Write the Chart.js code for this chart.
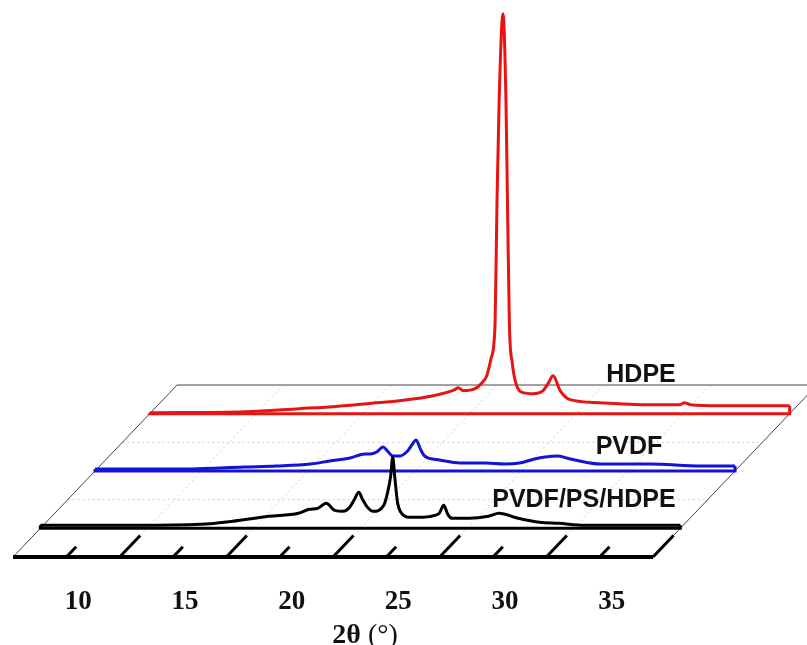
<!DOCTYPE html>
<html>
<head>
<meta charset="utf-8">
<script src="https://cdn.jsdelivr.net/npm/chart.js@4.4.0/dist/chart.umd.min.js"></script>
<style>
  html, body { margin: 0; padding: 0; background: #fff; }
  #wrap { width: 807px; height: 645px; position: relative; }
</style>
</head>
<body>
<div id="wrap"><canvas id="xrd"></canvas></div>
<script>
// XRD patterns, 2theta (deg) vs intensity (a.u.)
const blendTheta = [7.5, 12.0, 15.0, 16.5, 18.2, 19.6, 20.1, 20.5, 20.9, 21.3, 21.7, 22.0, 22.2, 22.43, 22.6, 22.8, 23.1, 23.6, 23.8, 23.92, 24.02, 24.12, 24.25, 24.4, 24.8, 25.2, 26.0, 26.2, 26.41, 26.6, 26.8, 27.6, 28.5, 29.0, 29.9, 30.9, 31.8, 33.0, 37.5];
const blendInt   = [3, 3, 4, 7, 12, 15, 19, 20, 25, 18, 17, 21, 28, 36, 29, 22, 17, 23, 38, 52, 71, 50, 25, 16, 11, 11, 13, 15, 23, 14, 10, 10, 12, 15, 10, 6, 5, 3, 3];

const pvdfTheta = [7.5, 12.0, 14.5, 16.0, 17.6, 18.5, 19.45, 20.15, 20.4, 20.7, 21.0, 21.25, 21.45, 21.8, 22.15, 22.35, 22.55, 22.75, 22.95, 23.65, 24.6, 25.8, 26.7, 27.4, 28.1, 28.6, 29.2, 29.6, 30.0, 31.2, 33.5, 35.9, 37.5];
const pvdfInt   = [2, 2, 4, 5, 7, 10, 13, 17, 17, 19, 24, 19, 15, 15, 20, 26, 31, 22, 15, 11, 8, 8, 7, 8, 12, 14, 15, 13, 11, 7, 7, 5, 5];

const hdpeTheta = [7.5, 12.0, 14.5, 16.1, 17.7, 19.2, 20.8, 21.8, 21.95, 22.2, 22.75, 23.08, 23.3, 23.5, 23.69, 23.78, 23.88, 24.06, 24.2, 24.27, 24.36, 24.5, 24.67, 25.0, 25.47, 25.94, 26.17, 26.41, 26.74, 27.2, 28.6, 30.5, 32.37, 32.56, 32.84, 34.25, 37.5];
const hdpeInt   = [1, 2, 5, 7, 10, 13, 18, 24, 26, 23, 25, 31, 38, 55, 90, 213, 313, 400, 313, 213, 90, 50, 30, 21, 20, 23, 30, 38, 23, 14, 11, 9, 9, 11, 9, 8, 8];

const seriesNames = ["PVDF/PS/HDPE", "PVDF", "HDPE"];
const labelTicks = [10, 15, 20, 25, 30, 35];
const majorTicks = [12.5, 17.5, 22.5, 27.5, 32.5, 37.5];

// oblique projection of the floor
const X0 = 7.5, X1 = 37.5;
const DEPTH_X = 7.69;   // 2theta shift over full depth
const DEPTH_Y = 172;    // intensity shift over full depth
const proj = (t, i, d) => ({ x: t + d * DEPTH_X, y: i + d * DEPTH_Y });

const series = [
  { name: seriesNames[0], theta: blendTheta, val: blendInt, depth: 1 / 6, color: "#000000",
    label: { t: 32.98, i: 28 } },
  { name: seriesNames[1], theta: pvdfTheta, val: pvdfInt, depth: 1 / 2, color: "#1212d8",
    label: { t: 32.53, i: 24 } },
  { name: seriesNames[2], theta: hdpeTheta, val: hdpeInt, depth: 5 / 6, color: "#e81414",
    label: { t: 30.53, i: 39 } },
];

const datasets = [];
series.forEach((s) => {
  datasets.push({
    data: s.theta.map((t, k) => proj(t, s.val[k], s.depth)),
    borderColor: s.color,
    borderWidth: 3,
    pointRadius: 0,
    cubicInterpolationMode: "monotone",
  });
  // baseline and end caps
  const n = s.val.length - 1;
  datasets.push({
    data: [
      proj(s.theta[n], s.val[n], s.depth),
      proj(X1, 0, s.depth),
      proj(X0, 0, s.depth),
      proj(s.theta[0], s.val[0], s.depth),
    ],
    borderColor: s.color,
    borderWidth: 3,
    pointRadius: 0,
    tension: 0,
  });
});

const floor = {
  id: "floor",
  beforeDatasetsDraw(chart) {
    const { ctx, scales: { x, y } } = chart;
    const P = (t, d) => {
      const p = proj(t, 0, d);
      return [x.getPixelForValue(p.x), y.getPixelForValue(p.y)];
    };
    const seg = (a, b) => {
      ctx.beginPath();
      ctx.moveTo(a[0], a[1]);
      ctx.lineTo(b[0], b[1]);
      ctx.stroke();
    };
    ctx.save();
    // dotted grid
    ctx.setLineDash([2, 3]);
    ctx.strokeStyle = "#cccccc";
    ctx.lineWidth = 1;
    [1 / 3, 2 / 3].forEach((d) => seg(P(X0, d), P(X1, d)));
    majorTicks.slice(0, -1).forEach((t) => seg(P(t, 0), P(t, 1)));
    ctx.setLineDash([]);
    // floor edges
    ctx.strokeStyle = "#444";
    seg(P(X0, 0), P(X0, 1));
    seg(P(X0, 1), P(X1, 1));
    seg(P(X1, 0), P(X1, 1));
    // front axis and ticks
    ctx.strokeStyle = "#000";
    ctx.lineWidth = 4;
    seg(P(X0, 0), P(X1, 0));
    ctx.lineWidth = 3;
    labelTicks.forEach((t) => seg(P(t, 0), P(t, 0.06)));
    majorTicks.forEach((t) => seg(P(t, 0), P(t, 0.125)));
    ctx.restore();
  },
  afterDatasetsDraw(chart) {
    const { ctx, scales: { x, y } } = chart;
    ctx.save();
    ctx.fillStyle = "#111";
    ctx.textAlign = "center";
    ctx.textBaseline = "middle";
    // tick labels
    ctx.font = "bold 27px 'Liberation Serif', serif";
    labelTicks.forEach((t) => {
      ctx.fillText(String(t), x.getPixelForValue(t) + 12, y.getPixelForValue(-45));
    });
    // axis title: bold 2θ, regular (°)
    const a = "2θ", b = " (°)";
    ctx.font = "bold 28px 'Liberation Serif', serif";
    const wa = ctx.measureText(a).width;
    ctx.font = "28px 'Liberation Serif', serif";
    const wb = ctx.measureText(b).width;
    const cx = x.getPixelForValue(24.0), cy = y.getPixelForValue(-79);
    ctx.textAlign = "left";
    ctx.font = "bold 28px 'Liberation Serif', serif";
    ctx.fillText(a, cx - (wa + wb) / 2, cy);
    ctx.font = "28px 'Liberation Serif', serif";
    ctx.fillText(b, cx - (wa + wb) / 2 + wa, cy);
    // series names
    ctx.textAlign = "center";
    ctx.font = "bold 25px 'Liberation Sans', Arial, sans-serif";
    series.forEach((s) => {
      const p = proj(s.label.t, s.label.i, s.depth);
      ctx.fillText(s.name, x.getPixelForValue(p.x), y.getPixelForValue(p.y));
    });
    ctx.restore();
  },
};

new Chart(document.getElementById("xrd"), {
  type: "line",
  data: { datasets },
  options: {
    responsive: true,
    maintainAspectRatio: false,
    animation: false,
    layout: { padding: 0 },
    plugins: { legend: { display: false }, tooltip: { enabled: false } },
    scales: {
      x: { type: "linear", min: 6.89, max: 44.72, display: false },
      y: { min: -88, max: 557, display: false },
    },
  },
  plugins: [floor],
});
</script>
</body>
</html>
